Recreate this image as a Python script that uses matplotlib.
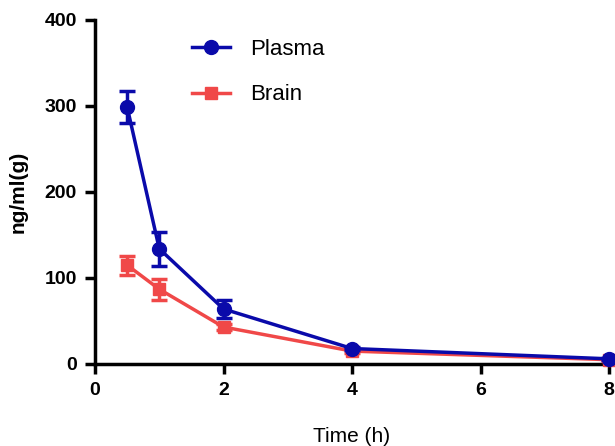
import matplotlib.pyplot as plt
from matplotlib.lines import Line2D

# data
time_h = [0.5, 1, 2, 4, 8]
plasma = [299, 134, 64, 18, 6]
plasma_err = [19, 20, 10, 2, 1]
brain = [115, 87, 43, 15, 5]
brain_err = [11, 12, 4, 2, 1]

plt.rcParams['font.family'] = ['Liberation Sans', 'DejaVu Sans']

fig = plt.figure(figsize=(6.15, 4.46), dpi=100)
ax = fig.add_axes([95 / 615, 1 - 364 / 446, 514 / 615, 344 / 446])

blue = '#0A0AAA'
red = '#F04848'

ax.errorbar(time_h, brain, yerr=brain_err, color=red, marker='s', markersize=9,
            linewidth=2.5, elinewidth=2.5, capsize=6, capthick=2.5,
            clip_on=False, zorder=3)
ax.errorbar(time_h, plasma, yerr=plasma_err, color=blue, marker='o', markersize=10,
            linewidth=2.5, elinewidth=2.5, capsize=6, capthick=2.5,
            clip_on=False, zorder=4)

ax.set_xlim(0, 8)
ax.set_ylim(0, 400)
ax.set_xticks([0, 2, 4, 6, 8])
ax.set_yticks([0, 100, 200, 300, 400])
for s in ['top', 'right']:
    ax.spines[s].set_visible(False)
for s in ['left', 'bottom']:
    ax.spines[s].set_linewidth(2.5)
ax.tick_params(width=2.5, length=7, labelsize=14, pad=6)
for lab in ax.get_xticklabels() + ax.get_yticklabels():
    lab.set_fontweight('bold')

ax.set_xlabel('Time (h)', fontsize=15, labelpad=20)
ax.set_ylabel('ng/ml(g)', fontsize=15, fontweight='bold', labelpad=12)

handles = [Line2D([], [], color=blue, marker='o', markersize=10, linewidth=2.5),
           Line2D([], [], color=red, marker='s', markersize=9, linewidth=2.5)]
ax.legend(handles, ['Plasma', 'Brain'], loc='upper left', bbox_to_anchor=(0.15, 1.003),
          frameon=False, fontsize=16, labelspacing=1.1, handlelength=1.7,
          handletextpad=0.9)

fig.savefig('out.png', dpi=100)
